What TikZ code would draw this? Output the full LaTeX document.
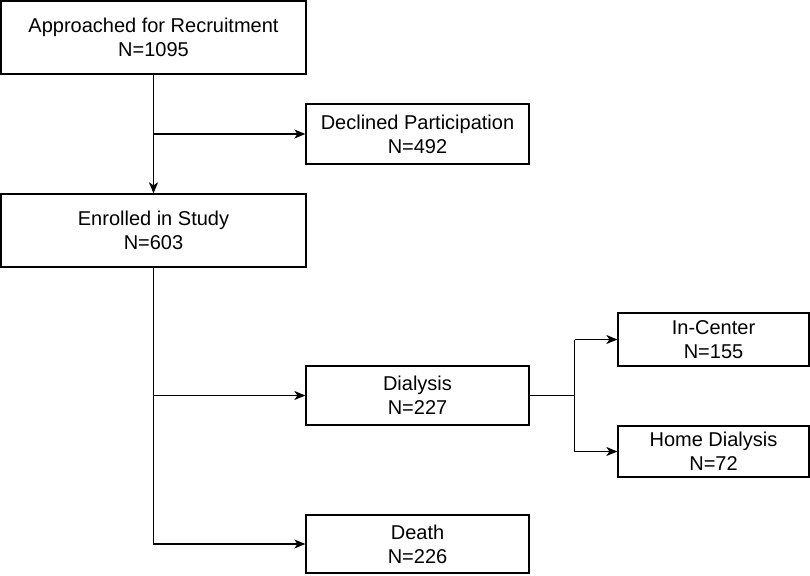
\documentclass[tikz,border=0pt]{standalone}
\usepackage{fontspec}
\setmainfont{Liberation Sans}
\usetikzlibrary{arrows.meta,calc}
\begin{document}
\begin{tikzpicture}[x=1pt,y=-1pt,
  box/.style={draw,line width=1.3pt,inner sep=0pt,align=center,
    font=\fontsize{20}{24}\selectfont},
  conn/.style={line width=1.3pt,-{Stealth[length=11pt,width=9pt,inset=3pt]}},
  plain/.style={line width=1.3pt}]
\useasboundingbox (0,0) rectangle (810,575);
\node[box,minimum width=305pt,minimum height=73pt] (appr) at (153.5,37.5) {Approached for Recruitment\\N=1095};
\node[box,minimum width=223pt,minimum height=60pt] (decl) at (417.5,134) {Declined Participation\\N=492};
\node[box,minimum width=305pt,minimum height=73pt] (enr) at (153.5,230.5) {Enrolled in Study\\N=603};
\node[box,minimum width=223pt,minimum height=59pt] (dial) at (417.5,395.5) {Dialysis\\N=227};
\node[box,minimum width=191pt,minimum height=53pt] (inc) at (713.5,339.5) {In-Center\\N=155};
\node[box,minimum width=191pt,minimum height=51pt] (home) at (713.5,451.5) {Home Dialysis\\N=72};
\node[box,minimum width=223pt,minimum height=58pt] (death) at (417.5,544) {Death\\N=226};
\draw[conn] (appr.south) -- (enr.north);
\draw[conn] (appr.south |- decl.west) -- (decl.west);
\draw[conn] (enr.south) |- (death.west);
\draw[conn] (enr.south |- dial.west) -- (dial.west);
\coordinate (j) at ($(dial.east)+(45,0)$);
\draw[plain] (dial.east) -- (j);
\draw[plain] (j |- inc.west) -- (j |- home.west);
\draw[conn] (j |- inc.west) -- (inc.west);
\draw[conn] (j |- home.west) -- (home.west);
\end{tikzpicture}
\end{document}
